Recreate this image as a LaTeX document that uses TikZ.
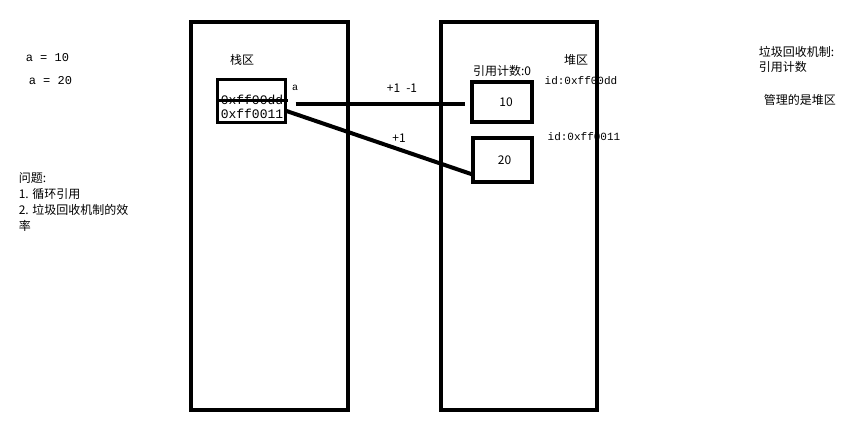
\documentclass[tikz,border=0pt]{standalone}
\usepackage{fontspec}
\setmainfont{Noto Sans CJK SC}
\setmonofont{Liberation Mono}
\usepackage{tikz}

\begin{document}
\begin{tikzpicture}[x=1pt,y=-1pt,line width=3.5pt]
      \tikzstyle{area}=[rectangle,draw,inner sep=0pt]
      \tikzstyle{cell}=[rectangle,draw,inner sep=0pt,line width=3pt]
      \tikzstyle{txt}=[inner sep=0pt,font=\fontsize{12}{15}\selectfont]
      \tikzstyle{code}=[inner sep=0pt,font=\fontsize{12}{15}\selectfont\ttfamily]
      \tikzstyle{link}=[line width=4pt]
      \useasboundingbox (0,0) rectangle (849,444);
      % left notes
      \node[code,anchor=west](a10) at (24,58){a = 10};
      \node[code,anchor=west](a20) at (27,81){a = 20};
      \node[txt,anchor=north west,align=left,font=\fontsize{12}{16}\selectfont](issue) at (17,171){问题:\\1. 循环引用\\2. 垃圾回收机制的效\\率};
      % stack
      \node[area,minimum width=157pt,minimum height=388pt](stack) at (269.5,216){};
      \node[txt](stack-t) at (242,60){栈区};
      \node[cell,minimum width=68pt,minimum height=42pt](ref) at (251,101){};
      \node[code,font=\fontsize{13}{15}\selectfont\ttfamily](old) at (252,100){0xff00dd};
      \node[code,font=\fontsize{13}{15}\selectfont\ttfamily](new) at (252,114){0xff0011};
      \draw[line width=3pt](old.west)--([xshift=3pt]old.east);
      \node[txt,font=\fontsize{10}{12}\selectfont\ttfamily](var) at (295,88){a};
      % heap
      \node[area,minimum width=156pt,minimum height=388pt](heap) at (519,216){};
      \node[txt](heap-t) at (576,60){堆区};
      \node[cell,line width=4pt,minimum width=60pt,minimum height=40pt](v10) at (502,102){};
      \node[txt](n10) at ([xshift=4pt]v10){10};
      \node[cell,line width=4pt,minimum width=59pt,minimum height=44pt](v20) at (502.5,160){};
      \node[txt](n20) at ([xshift=2pt]v20){20};
      \node[txt](cnt) at (502,71){引用计数:0};
      \node[code,font=\fontsize{11}{13}\selectfont\ttfamily](id1) at (581,81){id:0xff00dd};
      \node[code,font=\fontsize{11}{13}\selectfont\ttfamily](id2) at (584,137){id:0xff0011};
      % references
      \draw[link]([xshift=9pt,yshift=-3pt]ref.east)--([xshift=-5pt,yshift=-2pt]v10.west);
      \draw[link]([yshift=-10pt]ref.east)--([xshift=3pt,yshift=9pt]v20.south west);
      \node[txt](inc-dec) at (402,88){+1\enspace -1};
      \node[txt](inc) at (399,138){+1};
      % right notes
      \node[txt,anchor=north west,align=left](gc) at (757,45){垃圾回收机制:\\引用计数};
      \node[txt,anchor=west](heap-note) at (762,100){管理的是堆区};
    \end{tikzpicture}
\end{document}
